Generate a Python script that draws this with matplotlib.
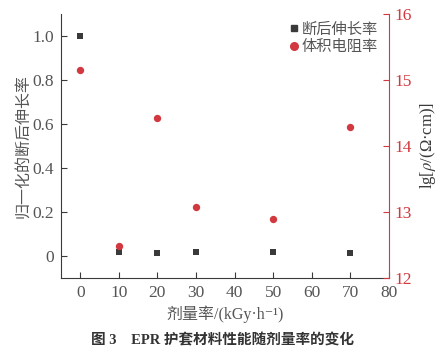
import matplotlib
matplotlib.use("Agg")
import matplotlib.pyplot as plt
from matplotlib.lines import Line2D

dose_rate = [0, 10, 20, 30, 50, 70]
elongation = [1.0, 0.018, 0.012, 0.018, 0.018, 0.013]
resistivity = [15.15, 12.49, 14.42, 13.07, 12.90, 14.29]
x_ticks = [0, 10, 20, 30, 40, 50, 60, 70, 80]
left_ticks = [0, 0.2, 0.4, 0.6, 0.8, 1.0]
left_labels = ["0", "0.2", "0.4", "0.6", "0.8", "1.0"]
right_ticks = [12, 13, 14, 15, 16]

SERIF = ["Liberation Serif", "DejaVu Serif"]
CJK = ["Noto Sans CJK SC", "DejaVu Sans"]
MIX = ["Liberation Serif", "Noto Sans CJK SC", "DejaVu Sans"]
GRAY = "#555555"
DARK = "#3a3a3a"
RED = "#d2383f"

plt.rcParams['font.family'] = MIX
plt.rcParams['mathtext.fontset'] = 'stix'

fig = plt.figure(figsize=(4.45, 3.6), dpi=100)
ax = fig.add_axes([0.137, 0.228, 0.737, 0.733])
ax2 = ax.twinx()

ax.scatter(dose_rate, elongation, marker='s', s=22, color=DARK, zorder=3, linewidths=0)
ax2.scatter(dose_rate, resistivity, marker='o', s=28, color=RED, zorder=3, linewidths=0)

ax.set_xlim(-5, 80)
ax.set_ylim(-0.1, 1.1)
ax2.set_ylim(12, 16)

ax.set_xticks(x_ticks)
ax.set_xticklabels([str(t) for t in x_ticks], family=SERIF, fontsize=12.5, color=GRAY)
ax.set_yticks(left_ticks)
ax.set_yticklabels(left_labels, family=SERIF, fontsize=12.5, color=GRAY)
ax2.set_yticks(right_ticks)
ax2.set_yticklabels([str(t) for t in right_ticks], family=SERIF, fontsize=12.5, color=RED)

for a in (ax, ax2):
    a.spines['top'].set_visible(False)
ax.spines['left'].set_color(DARK)
ax.spines['bottom'].set_color(DARK)
ax.spines['right'].set_visible(False)
ax2.spines['left'].set_visible(False)
ax2.spines['bottom'].set_visible(False)
ax2.spines['right'].set_color(RED)

ax.tick_params(axis='both', direction='in', length=4, color=DARK, pad=5)
ax2.tick_params(axis='y', direction='in', length=4, color=RED, pad=4)

ax.set_xlabel("剂量率/(kGy·h⁻¹)", family=MIX, fontsize=11.5, color=GRAY, labelpad=3)
ax.set_ylabel("归一化的断后伸长率", family=CJK, fontsize=11.5, color=GRAY, labelpad=1)
ax2.set_ylabel("lg[$\\rho$/(Ω·cm)]", family=SERIF, fontsize=12, color=DARK, labelpad=4)

handles = [
    Line2D([], [], marker='s', linestyle='none', color=DARK, markersize=5),
    Line2D([], [], marker='o', linestyle='none', color=RED, markersize=5.5),
]
leg = ax.legend(handles, ["断后伸长率", "体积电阻率"], loc='upper right', frameon=False,
                prop={'family': CJK, 'size': 11}, handletextpad=0.0, labelspacing=0.05,
                borderaxespad=0.2, handlelength=1.0, bbox_to_anchor=(0.995, 1.01))
for t in leg.get_texts():
    t.set_color(GRAY)

fig.text(0.5, 0.055, "图 3\u3000EPR 护套材料性能随剂量率的变化", ha='center', va='center',
         family=MIX, fontsize=10.5, fontweight='bold', color="#333333")

fig.savefig("out.png", dpi=100)
